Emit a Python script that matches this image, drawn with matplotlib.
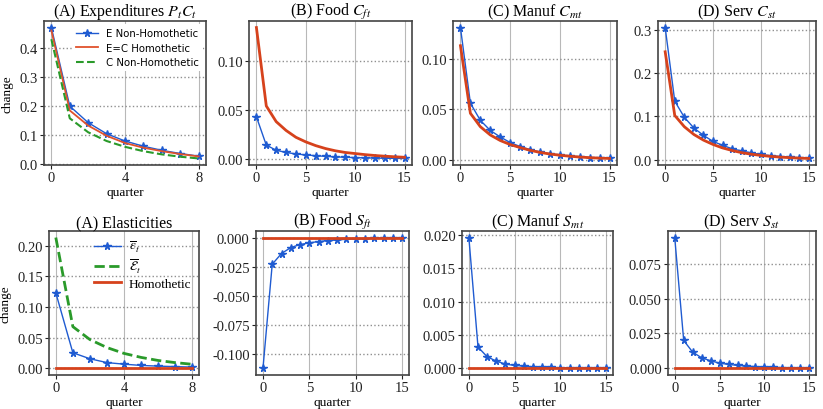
import matplotlib
matplotlib.use("Agg")
import matplotlib.pyplot as plt
import matplotlib.ticker as mticker

plt.rcParams['font.family'] = ['Liberation Serif', 'DejaVu Serif']
plt.rcParams['mathtext.fontset'] = 'stix'

BLUE = '#1f5bd1'
RED = '#d6421c'
GREEN = '#2a9a2a'

# ---------------- data ----------------
qA = list(range(9))
q = list(range(16))

exp_E_nonhom = [0.47, 0.200, 0.143, 0.105, 0.080, 0.062, 0.048, 0.037, 0.028]
exp_EC_hom = [0.46, 0.185, 0.133, 0.098, 0.073, 0.057, 0.045, 0.035, 0.027]
exp_C_nonhom = [0.43, 0.158, 0.110, 0.080, 0.060, 0.045, 0.034, 0.026, 0.020]

food_C_nonhom = [0.043, 0.014, 0.0088, 0.0065, 0.005, 0.004, 0.0032, 0.0025, 0.002,
                 0.0016, 0.0013, 0.001, 0.0008, 0.0006, 0.0005, 0.0004]
food_C_hom = [0.134, 0.054, 0.038, 0.029, 0.022, 0.0173, 0.0135, 0.0105, 0.0082,
              0.0065, 0.0054, 0.0043, 0.0034, 0.0027, 0.0021, 0.0016]

man_C_nonhom = [0.131, 0.056, 0.039, 0.029, 0.0225, 0.017, 0.013, 0.010, 0.0075,
                0.0058, 0.0045, 0.0035, 0.0027, 0.002, 0.0016, 0.0012]
man_C_hom = [0.113, 0.046, 0.0327, 0.0245, 0.019, 0.015, 0.012, 0.0093, 0.0072,
             0.0056, 0.0044, 0.0034, 0.0026, 0.002, 0.0015, 0.0012]

serv_C_nonhom = [0.305, 0.135, 0.0977, 0.073, 0.056, 0.042, 0.033, 0.025, 0.020,
                 0.0155, 0.012, 0.009, 0.007, 0.0055, 0.004, 0.003]
serv_C_hom = [0.249, 0.102, 0.076, 0.058, 0.045, 0.035, 0.027, 0.021, 0.016,
              0.0125, 0.0097, 0.0075, 0.0058, 0.0045, 0.0035, 0.0027]

elast_eps = [0.123, 0.0255, 0.0158, 0.0095, 0.007, 0.0049, 0.0038, 0.003, 0.0022]
elast_E = [0.213, 0.068, 0.047, 0.034, 0.0245, 0.018, 0.013, 0.0095, 0.0068]
elast_hom = [0.0] * 9

food_S_nonhom = [-0.1123, -0.0229, -0.0137, -0.0086, -0.006, -0.0046, -0.0034, -0.0026,
                 -0.002, -0.0015, -0.0012, -0.0009, -0.0007, -0.0005, -0.0004, -0.0003]
man_S_nonhom = [0.0196, 0.0032, 0.00175, 0.0011, 0.00065, 0.00045, 0.00035, 0.00025,
                0.0002, 0.00015, 0.0001, 0.00008, 0.00006, 0.00005, 0.00004, 0.00003]
serv_S_nonhom = [0.0936, 0.020, 0.0117, 0.0076, 0.0055, 0.0038, 0.0029, 0.0022,
                 0.0017, 0.0013, 0.001, 0.0008, 0.0006, 0.0005, 0.0004, 0.0003]
S_hom = [0.0] * 16

# ---------------- figure ----------------
W, H = 823.0, 410.0
fig = plt.figure(figsize=(W / 100, H / 100), dpi=100)


def box(x0, x1, y0, y1):
    return (x0 / W, 1 - y1 / H, (x1 - x0) / W, (y1 - y0) / H)


pos_top = [box(44, 206, 22, 166), box(249, 412, 22, 166),
           box(453, 617, 22, 166), box(658, 816, 22, 166)]
pos_bot = [box(49, 199, 232, 376), box(256, 409, 232, 376),
           box(462, 613, 232, 376), box(668, 816, 232, 376)]

TITLE = 11.5
TICK = 10.5
LAB = 9.5


def style(ax):
    ax.grid(True, axis='x', color='#b8b8b8', linestyle='-', linewidth=0.8)
    ax.grid(True, axis='y', color='#909090', linestyle=':', linewidth=1.0)
    ax.set_axisbelow(True)
    for s in ax.spines.values():
        s.set_color('#444444')
        s.set_linewidth(1.2)
    ax.tick_params(labelsize=TICK, colors='#222222', length=3, pad=1.5)
    ax.set_xlabel('quarter', fontsize=LAB, labelpad=1)


mk = dict(marker='*', markersize=5.5, linewidth=1.0, color=BLUE)

# Top A
ax = fig.add_axes(pos_top[0])
ax.plot(qA, exp_E_nonhom, label='E Non-Homothetic', **mk)
ax.plot(qA, exp_EC_hom, color='#e0522c', linewidth=1.3, label='E=C Homothetic')
ax.plot(qA, exp_C_nonhom, color=GREEN, linewidth=1.5, linestyle='--', label='C Non-Homothetic')
ax.set_xticks([0, 4, 8])
ax.set_yticks([0.0, 0.1, 0.2, 0.3, 0.4])
ax.set_title('(A) Expenditures $P_tC_t$', fontsize=TITLE, pad=3)
ax.set_ylabel('change', fontsize=LAB, labelpad=4)
style(ax)
ax.legend(loc='upper right', prop={'family': 'DejaVu Sans', 'size': 7.3},
          frameon=True, framealpha=1, edgecolor='none', borderaxespad=0.3,
          handlelength=2.2, labelspacing=0.45, fancybox=False)

# Top B
ax = fig.add_axes(pos_top[1])
ax.plot(q, food_C_nonhom, **mk)
ax.plot(q, food_C_hom, color=RED, linewidth=2.0)
ax.set_xticks([0, 5, 10, 15])
ax.set_yticks([0.0, 0.05, 0.10])
ax.yaxis.set_major_formatter(mticker.FormatStrFormatter('%.2f'))
ax.set_title('(B) Food $C_{ft}$', fontsize=TITLE, pad=3)
style(ax)

# Top C
ax = fig.add_axes(pos_top[2])
ax.plot(q, man_C_nonhom, **mk)
ax.plot(q, man_C_hom, color=RED, linewidth=2.0)
ax.set_xticks([0, 5, 10, 15])
ax.set_yticks([0.0, 0.05, 0.10])
ax.yaxis.set_major_formatter(mticker.FormatStrFormatter('%.2f'))
ax.set_title('(C) Manuf $C_{mt}$', fontsize=TITLE, pad=3)
style(ax)

# Top D
ax = fig.add_axes(pos_top[3])
ax.plot(q, serv_C_nonhom, **mk)
ax.plot(q, serv_C_hom, color=RED, linewidth=2.0)
ax.set_xticks([0, 5, 10, 15])
ax.set_yticks([0.0, 0.1, 0.2, 0.3])
ax.set_title('(D) Serv $C_{st}$', fontsize=TITLE, pad=3)
style(ax)

# Bottom A
ax = fig.add_axes(pos_bot[0])
ax.plot(qA, elast_eps, label=r'$\overline{\epsilon}_t$', **mk)
ax.plot(qA, elast_E, color=GREEN, linewidth=2.0, linestyle='--', label=r'$\overline{\mathcal{E}}_t$')
ax.plot(qA, elast_hom, color=RED, linewidth=2.0, label='Homothetic')
ax.set_xticks([0, 4, 8])
ax.set_yticks([0.0, 0.05, 0.10, 0.15, 0.20])
ax.yaxis.set_major_formatter(mticker.FormatStrFormatter('%.2f'))
ax.set_title('(A) Elasticities', fontsize=TITLE, pad=3)
ax.set_ylabel('change', fontsize=LAB, labelpad=4)
style(ax)
ax.legend(loc='upper right', fontsize=9.5, frameon=False, handlelength=2.0,
          labelspacing=0.2, borderaxespad=0.2, handletextpad=0.6)

# Bottom B
ax = fig.add_axes(pos_bot[1])
ax.plot(q, food_S_nonhom, **mk)
ax.plot(q, S_hom, color=RED, linewidth=2.0)
ax.set_xticks([0, 5, 10, 15])
ax.set_yticks([-0.100, -0.075, -0.050, -0.025, 0.0])
ax.yaxis.set_major_formatter(mticker.FormatStrFormatter('%.3f'))
ax.set_title('(B) Food $S_{ft}$', fontsize=TITLE, pad=3)
style(ax)

# Bottom C
ax = fig.add_axes(pos_bot[2])
ax.plot(q, man_S_nonhom, **mk)
ax.plot(q, S_hom, color=RED, linewidth=2.0)
ax.set_xticks([0, 5, 10, 15])
ax.set_yticks([0.0, 0.005, 0.010, 0.015, 0.020])
ax.yaxis.set_major_formatter(mticker.FormatStrFormatter('%.3f'))
ax.set_title('(C) Manuf $S_{mt}$', fontsize=TITLE, pad=3)
style(ax)

# Bottom D
ax = fig.add_axes(pos_bot[3])
ax.plot(q, serv_S_nonhom, **mk)
ax.plot(q, S_hom, color=RED, linewidth=2.0)
ax.set_xticks([0, 5, 10, 15])
ax.set_yticks([0.0, 0.025, 0.050, 0.075])
ax.yaxis.set_major_formatter(mticker.FormatStrFormatter('%.3f'))
ax.set_title('(D) Serv $S_{st}$', fontsize=TITLE, pad=3)
style(ax)

fig.savefig('out.png', dpi=100)
